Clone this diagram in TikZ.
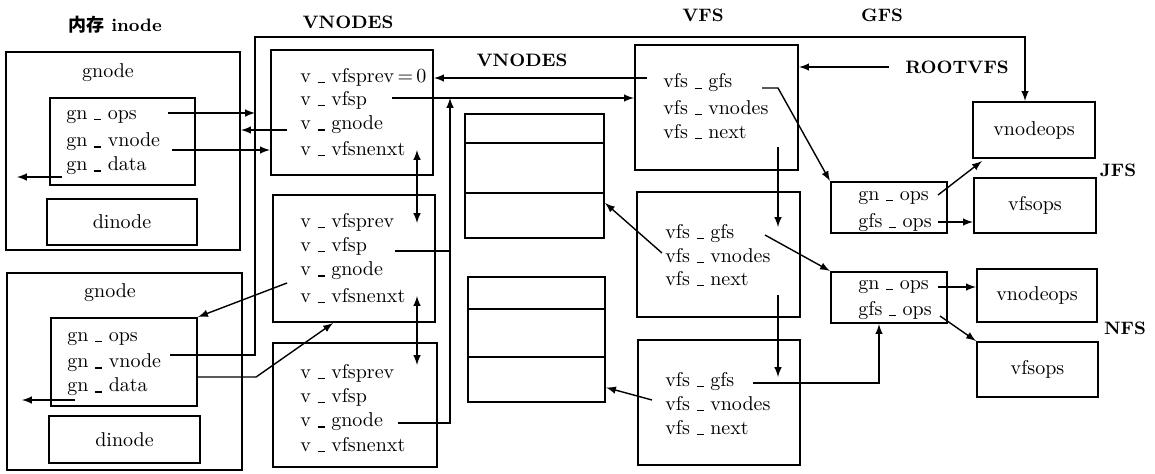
\documentclass[tikz,border=0pt]{standalone}
\usepackage{fontspec}
\newfontfamily\cjk{Noto Sans CJK SC}
\usetikzlibrary{arrows, calc, fit, positioning}
\tikzset{
    box/.style={draw, line width=1.1pt, inner sep=0pt},
    field/.style={anchor=west, inner sep=0pt, font=\normalsize},
    title/.style={inner sep=0pt, font=\small\bfseries},
    link/.style={->, >=latex, line width=0.7pt},
    dlink/.style={<->, >=latex, line width=0.7pt},
    wire/.style={line width=0.7pt},
}
\newcommand{\us}{\rule[-0.4pt]{3.5pt}{0.6pt}}
\newcommand{\drawBox}[5]{
    \node[box, fit={(#2,#3) (#4,#5)}] (#1) {};
}
\newcommand{\drawRows}[3]{
    \draw[line width=0.9pt] ($(#1.west |- 0,0)+(0,#2)$) -- ($(#1.east |- 0,0)+(0,#2)$);
    \draw[line width=0.9pt] ($(#1.west |- 0,0)+(0,#3)$) -- ($(#1.east |- 0,0)+(0,#3)$);
}
\begin{document}
\begin{tikzpicture}[x=0.5pt, y=-0.5pt]
    \useasboundingbox (0,0) rectangle (1155,473);

        % titles
        \node[title] (tmem) at (115,25) {{\cjk 内存} inode};
        \node[title] (tvn1) at (348,22) {VNODES};
        \node[title] (tvn2) at (522,60) {VNODES};
        \node[title] (tvfs) at (703,15) {VFS};
        \node[title] (tgfs) at (882,15) {GFS};
        \node[title] (troot) at (957,67) {ROOTVFS};
        \node[title] (tjfs) at (1118,170) {JFS};
        \node[title] (tnfs) at (1125,328) {NFS};

        % gnodes
        \drawBox{g1}{6}{52}{240}{250}
        \drawBox{g1in}{50}{98}{195}{185}
        \drawBox{d1}{47}{199}{197}{245}
        \node (g1lab) at (108,73) {gnode};
        \node (d1lab) at (d1.center) {dinode};
        \node[field] (g1ops) at (66,117) {gn \us{} ops};
        \node[field] (g1vnode) at (66,142) {gn \us{} vnode};
        \node[field] (g1data) at (66,166) {gn \us{} data};

        \drawBox{g2}{7}{273}{242}{470}
        \drawBox{g2in}{51}{318}{197}{406}
        \drawBox{d2}{49}{416}{200}{463}
        \node (g2lab) at (110,293) {gnode};
        \node (d2lab) at (d2.center) {dinode};
        \node[field] (g2ops) at (67,339) {gn \us{} ops};
        \node[field] (g2vnode) at (67,363) {gn \us{} vnode};
        \node[field] (g2data) at (67,387) {gn \us{} data};

        % vnodes
        \drawBox{v1}{271}{50}{433}{175}
        \node[field] (v1prev) at (300,77) {v \us{} vfsprev\,=\,0};
        \node[field] (v1vfsp) at (300,100) {v \us{} vfsp};
        \node[field] (v1gnode) at (300,125) {v \us{} gnode};
        \node[field] (v1next) at (300,149) {v \us{} vfsnenxt};

        \drawBox{v2}{273}{195}{435}{322}
        \node[field] (v2prev) at (300,222) {v \us{} vfsprev};
        \node[field] (v2vfsp) at (300,246) {v \us{} vfsp};
        \node[field] (v2gnode) at (300,271) {v \us{} gnode};
        \node[field] (v2next) at (300,296) {v \us{} vfsnenxt};

        \drawBox{v3}{273}{343}{437}{467}
        \node[field] (v3prev) at (300,373) {v \us{} vfsprev};
        \node[field] (v3vfsp) at (300,397) {v \us{} vfsp};
        \node[field] (v3gnode) at (300,422) {v \us{} gnode};
        \node[field] (v3next) at (300,445) {v \us{} vfsnenxt};

        % vnode tables
        \drawBox{t1}{465}{114}{604}{238}
        \drawRows{t1}{143}{193}
        \drawBox{t2}{468}{277}{605}{402}
        \drawRows{t2}{309}{357}

        % vfs
        \drawBox{f1}{635}{45}{798}{170}
        \node[field] (f1gfs) at (663,83) {vfs \us{} gfs};
        \node[field] (f1vnodes) at (663,108) {vfs \us{} vnodes};
        \node[field] (f1next) at (663,132) {vfs \us{} next};

        \drawBox{f2}{637}{192}{800}{317}
        \node[field] (f2gfs) at (665,233) {vfs \us{} gfs};
        \node[field] (f2vnodes) at (665,256) {vfs \us{} vnodes};
        \node[field] (f2next) at (665,279) {vfs \us{} next};

        \drawBox{f3}{638}{340}{800}{465}
        \node[field] (f3gfs) at (665,381) {vfs \us{} gfs};
        \node[field] (f3vnodes) at (665,404) {vfs \us{} vnodes};
        \node[field] (f3next) at (665,428) {vfs \us{} next};

        % gfs
        \drawBox{j}{831}{182}{947}{233}
        \node[field] (jops) at (858,198) {gn \us{} ops};
        \node[field] (jgfs) at (858,222) {gfs \us{} ops};
        \drawBox{jv}{973}{102}{1095}{158}
        \node (jvlab) at (jv.center) {vnodeops};
        \drawBox{js}{974}{178}{1096}{233}
        \node (jslab) at (js.center) {vfsops};

        \drawBox{n}{831}{272}{947}{323}
        \node[field] (nops) at (858,287) {gn \us{} ops};
        \node[field] (ngfs) at (858,310) {gfs \us{} ops};
        \drawBox{nv}{977}{269}{1097}{322}
        \node (nvlab) at (nv.center) {vnodeops};
        \drawBox{ns}{977}{342}{1098}{397}
        \node (nslab) at (ns.center) {vfsops};

        % links from gnodes
        \coordinate (busTop) at (255,37);
        \coordinate (s1) at ($(g1ops.west)+(102,-4)$);
        \draw[link] (s1) -- (s1 -| busTop);
        \coordinate (s2) at ($(v1gnode.west)+(-13,5)$);
        \draw[link] (s2) -- (s2 -| g1.east);
        \coordinate (s3) at ($(g1vnode.west)+(106,8)$);
        \draw[link] (s3) -- (s3 -| v1.west);
        \draw[link] ($(g1data.west)+(-4,11)$) -- ++(-45,0);
        \draw[link] ($(g2data.west)+(8,13)$) -- ++(-53,0);
        \coordinate (s4) at ($(g2vnode.west)+(103,-8)$);
        \draw[link] (s4) -- (s4 -| busTop) -- (busTop) -| ($(jv.north)+(-9,0)$);
        \coordinate (s5) at ($(g2in.east)+(0,15)$);
        \draw[link] (s5) -- ++(58,0) -- ($(v2.south)+(-21,0)$);
        \draw[link] ($(v2gnode.west)+(-13,12)$) -- (g2in.north east);

        % links between vnodes and vfs
        \coordinate (s6) at ($(v1vfsp.west)+(92,-2)$);
        \draw[link] (s6) -- (s6 -| f1.west);
        \coordinate (s7) at ($(f1gfs.west)+(-16,-5)$);
        \draw[link] (s7) -- (s7 -| v1.east);
        \coordinate (s8) at ($(v3gnode.west)+(98,1)$);
        \coordinate (vbus) at ($(s8)+(52,0)$);
        \draw[link] (s8) -- (vbus) -- (vbus |- s6);
        \coordinate (s9) at ($(v2vfsp.west)+(95,5)$);
        \draw[wire] (s9) -- (s9 -| vbus);
        \draw[dlink] ($(v1next.west)+(117,1)$) -- ++(0,73);
        \draw[dlink] ($(v2next.west)+(117,0)$) -- ++(0,69);

        % vfs chain
        \draw[link] ($(f1next.west)+(115,15)$) -- ++(0,80);
        \draw[link] ($(f2next.west)+(113,16)$) -- ++(0,82);
        \draw[link] ($(f2vnodes.west)+(-3,-3)$) -- ($(t1.east)+(0,27)$);
        \draw[link] ($(f3vnodes.west)+(-13,-4)$) -- ($(t2.east)+(0,48)$);
        \draw[link] ($(f1gfs.west)+(99,5)$) -- ++(16,0) -- (j.north west);
        \draw[link] ($(f2gfs.west)+(100,2)$) -- (n.north west);
        \draw[link] ($(f3gfs.west)+(88,2)$) -| ($(n.south)+(-10,0)$);
        \coordinate (s10) at ($(troot.west)+(-16,0)$);
        \draw[link] (s10) -- (s10 -| f1.east);

        % gfs ops
        \draw[link] ($(jops.west)+(80,-3)$) -- ($(jv.south west)+(10,2)$);
        \coordinate (s11) at ($(jgfs.west)+(80,0)$);
        \draw[link] (s11) -- (s11 -| js.west);
        \coordinate (s12) at ($(nops.west)+(80,0)$);
        \draw[link] (s12) -- (s12 -| nv.west);
        \draw[link] ($(ngfs.west)+(82,6)$) -- (ns.north west);

\end{tikzpicture}
\end{document}
